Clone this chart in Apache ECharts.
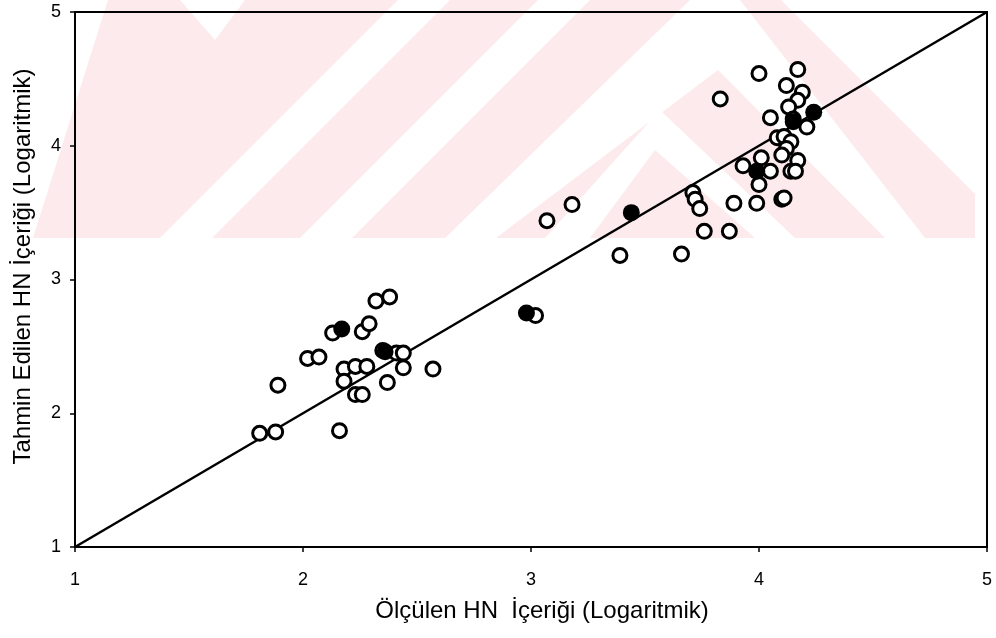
<!DOCTYPE html>
<html><head><meta charset="utf-8">
<script src="https://cdn.jsdelivr.net/npm/echarts@6/dist/echarts.min.js"></script>
<style>html,body{margin:0;padding:0;background:#fff}#c{width:996px;height:638px}</style>
</head><body><div id="c"></div>
<script>
// Axis ticks
const xTicks = [1, 2, 3, 4, 5];
const yTicks = [1, 2, 3, 4, 5];
// Open circles: measured (x) and predicted (y)
const openMeasured = [1.81,1.88,1.89,2.02,2.07,2.13,2.16,2.18,2.18,2.23,2.23,2.26,2.26,2.29,2.28,2.32,2.38,2.35,2.37,2.41,2.44,2.44,2.57,
  3.02,3.07,3.18,3.39,3.66,3.71,3.72,3.74,3.76,3.87,3.89,
  3.83,4.00,4.17,4.12,4.19,4.17,4.13,4.05,4.21,4.08,4.11,4.14,4.12,4.10,4.17,4.01,3.93,4.05,4.14,4.16,4.00,3.99,4.10,4.11,4.15];
const openPredicted = [1.85,1.86,2.21,2.41,2.42,2.60,1.87,2.33,2.24,2.35,2.14,2.14,2.61,2.67,2.35,2.84,2.87,2.47,2.23,2.45,2.45,2.34,2.33,
  2.73,3.44,3.56,3.18,3.19,3.65,3.60,3.53,3.36,3.36,3.57,
  4.35,4.54,4.57,4.45,4.40,4.34,4.29,4.21,4.14,4.06,4.07,4.03,3.98,3.93,3.89,3.91,3.85,3.81,3.81,3.81,3.71,3.57,3.60,3.61,4.20];
// Filled circles
const filledMeasured = [2.17,2.36,2.98,3.44,3.99,4.15,4.24];
const filledPredicted = [2.63,2.46,2.75,3.50,3.81,4.18,4.25];
// 1:1 line
const lineX = [1, 5];
const lineY = [1, 5];

const openData = openMeasured.map((v, i) => [v, openPredicted[i]]);
const filledData = filledMeasured.map((v, i) => [v, filledPredicted[i]]);
const lineData = lineX.map((v, i) => [v, lineY[i]]);

// Background watermark (decorative)
const pink = '#fdeaed';
const B = 238;
function poly(points, color) {
  return { type: 'polygon', z: -10, silent: true, shape: { points: points }, style: { fill: color } };
}
const wm = [
  poly([[108,0],[975,0],[975,B],[33,B]], pink),
  poly([[180,0],[245,0],[215,40]], '#fff'),
  poly([[160,B],[212,B],[450,0],[398,0]], '#fff'),
  poly([[300,B],[352,B],[590,0],[538,0]], '#fff'),
  poly([[445,B],[496,B],[718,70],[885,B],[925,B],[740,0],[690,0]], '#fff'),
  poly([[545,B],[590,B],[655,150],[755,B],[795,B],[660,110]], '#fff'),
  poly([[781,0],[975,0],[975,194]], '#fff')
];

const chart = echarts.init(document.getElementById('c'), null, { renderer: 'canvas' });
const font = 'Liberation Sans, Arial, sans-serif';
chart.setOption({
  animation: false,
  backgroundColor: '#fff',
  graphic: wm,
  grid: { left: 75, right: 9, top: 12, bottom: 91, show: true, borderColor: '#000', borderWidth: 2, backgroundColor: 'transparent' },
  xAxis: {
    type: 'value', min: xTicks[0], max: xTicks[xTicks.length - 1], interval: 1,
    name: 'Ölçülen HN  İçeriği (Logaritmik)', nameLocation: 'middle', nameGap: 52,
    nameTextStyle: { fontFamily: font, fontSize: 24, color: '#000', padding: [0, 0, 0, 22] },
    axisLine: { show: true, lineStyle: { color: '#000', width: 2 } },
    axisTick: { show: true, inside: false, length: 5, lineStyle: { color: '#000', width: 1.5 } },
    axisLabel: { fontFamily: font, fontSize: 18, color: '#000', margin: 24 },
    splitLine: { show: false }
  },
  yAxis: {
    type: 'value', min: yTicks[0], max: yTicks[yTicks.length - 1], interval: 1,
    name: 'Tahmin Edilen HN İçeriği (Logaritmik)', nameLocation: 'middle', nameGap: 40, nameRotate: 90,
    nameTextStyle: { fontFamily: font, fontSize: 24, color: '#000', padding: [0, 0, 0, 26] },
    axisLine: { show: true, lineStyle: { color: '#000', width: 2 } },
    axisTick: { show: true, inside: false, length: 5, lineStyle: { color: '#000', width: 1.5 } },
    axisLabel: { fontFamily: font, fontSize: 18, color: '#000', margin: 14 },
    splitLine: { show: false }
  },
  series: [
    { type: 'line', data: lineData, showSymbol: false, symbol: 'none', lineStyle: { color: '#000', width: 2.5 }, z: 3 },
    { type: 'scatter', data: openData, symbol: 'circle', symbolSize: 14,
      itemStyle: { color: '#fff', borderColor: '#000', borderWidth: 3, opacity: 1 }, z: 4 },
    { type: 'scatter', data: filledData, symbol: 'circle', symbolSize: 17,
      itemStyle: { color: '#000', opacity: 1 }, z: 5 }
  ]
});
</script></body></html>
